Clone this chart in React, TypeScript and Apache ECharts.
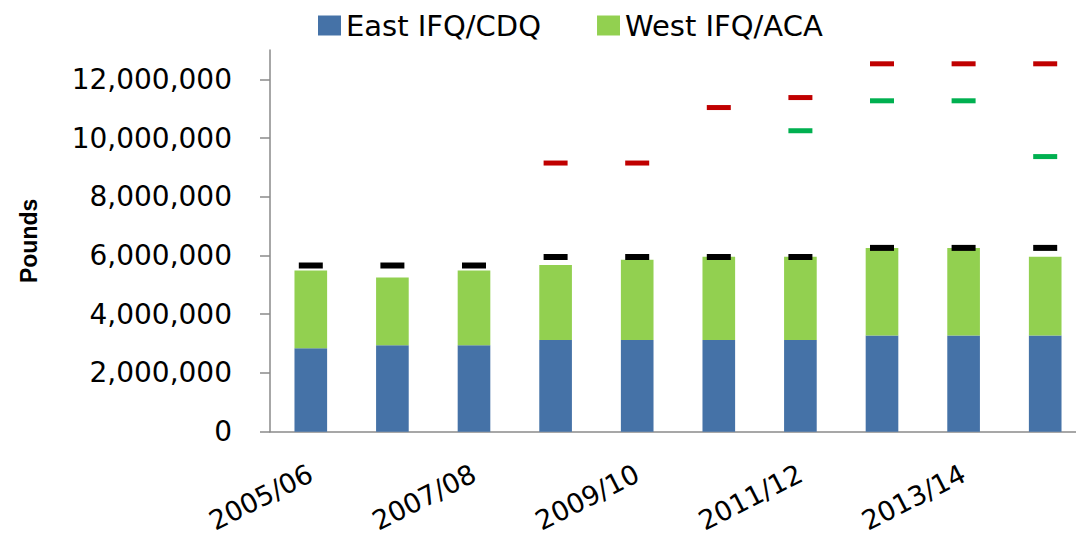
import React, { useEffect, useRef } from "react";
import * as echarts from "echarts";

const categories = [
  "2005/06", "2006/07", "2007/08", "2008/09", "2009/10",
  "2010/11", "2011/12", "2012/13", "2013/14", "2014/15",
];
const eastValues = [2840000, 2940000, 2940000, 3120000, 3120000, 3120000, 3120000, 3280000, 3280000, 3280000];
const westValues = [2650000, 2310000, 2550000, 2560000, 2740000, 2840000, 2840000, 2980000, 2980000, 2680000];
const blackMarks = [5660000, 5660000, 5660000, 5950000, 5950000, 5950000, 5950000, 6260000, 6260000, 6260000];
const redMarks = [null, null, null, 9150000, 9150000, 11040000, 11380000, 12530000, 12530000, 12530000];
const greenMarks = [null, null, null, null, null, null, 10250000, 11270000, 11270000, 9370000];
const yTicks = [0, 2000000, 4000000, 6000000, 8000000, 10000000, 12000000];

const FONT = "DejaVu Sans";
const AXIS_COLOR = "#8a8a8a";

export default function App() {
  const ref = useRef<HTMLDivElement>(null);
  useEffect(() => {
    if (!ref.current) return;
    const chart = echarts.init(ref.current, null, { renderer: "svg" });
    chart.setOption({
      animation: false,
      backgroundColor: "#ffffff",
      legend: {
        data: ["East IFQ/CDQ", "West IFQ/ACA"],
        left: 313,
        top: 6,
        icon: "rect",
        itemWidth: 23,
        itemHeight: 20,
        itemGap: 56,
        textStyle: { fontFamily: FONT, fontSize: 29, color: "#000" },
      },
      grid: { left: 270, right: 4, top: 50, bottom: 103 },
      xAxis: {
        type: "category",
        data: categories,
        axisLine: { lineStyle: { color: AXIS_COLOR, width: 1.5 } },
        axisTick: { interval: 0, length: 10, lineStyle: { color: AXIS_COLOR, width: 1.5 } },
        axisLabel: {
          interval: 1,
          rotate: 27,
          margin: 40,
          fontFamily: FONT,
          fontSize: 27,
          color: "#000",
        },
      },
      yAxis: {
        type: "value",
        min: 0,
        max: 13000000,
        interval: 2000000,
        name: "Pounds",
        nameLocation: "middle",
        nameRotate: 90,
        nameGap: 230,
        nameTextStyle: {
          fontFamily: "Liberation Sans",
          fontWeight: "bold",
          fontSize: 23,
          color: "#000",
        },
        splitLine: { show: false },
        axisLine: { show: true, lineStyle: { color: AXIS_COLOR, width: 1.5 } },
        axisTick: {
          show: true,
          length: 10,
          customValues: yTicks,
          lineStyle: { color: AXIS_COLOR, width: 1.5 },
        },
        axisLabel: {
          customValues: yTicks,
          margin: 38,
          fontFamily: FONT,
          fontSize: 28,
          color: "#000",
          formatter: (v: number) => v.toLocaleString("en-US"),
        },
      },
      series: [
        {
          name: "East IFQ/CDQ",
          type: "bar",
          stack: "total",
          data: eastValues,
          barWidth: "40%",
          itemStyle: { color: "#4572a7" },
        },
        {
          name: "West IFQ/ACA",
          type: "bar",
          stack: "total",
          data: westValues,
          barWidth: "40%",
          itemStyle: { color: "#92d050" },
        },
        {
          name: "black",
          type: "scatter",
          data: blackMarks,
          symbol: "rect",
          symbolSize: [24, 6],
          itemStyle: { color: "#000000", opacity: 1 },
          z: 5,
        },
        {
          name: "red",
          type: "scatter",
          data: redMarks,
          symbol: "rect",
          symbolSize: [24, 5],
          itemStyle: { color: "#c00000", opacity: 1 },
          z: 5,
        },
        {
          name: "green",
          type: "scatter",
          data: greenMarks,
          symbol: "rect",
          symbolSize: [24, 5],
          itemStyle: { color: "#00b050", opacity: 1 },
          z: 5,
        },
      ],
    });
    return () => chart.dispose();
  }, []);
  return (
    <div style={{ position: "absolute", left: 0, top: 0, width: 1076, height: 536, overflow: "hidden" }}>
      <div ref={ref} style={{ width: 1090, height: 536 }} />
    </div>
  );
}
